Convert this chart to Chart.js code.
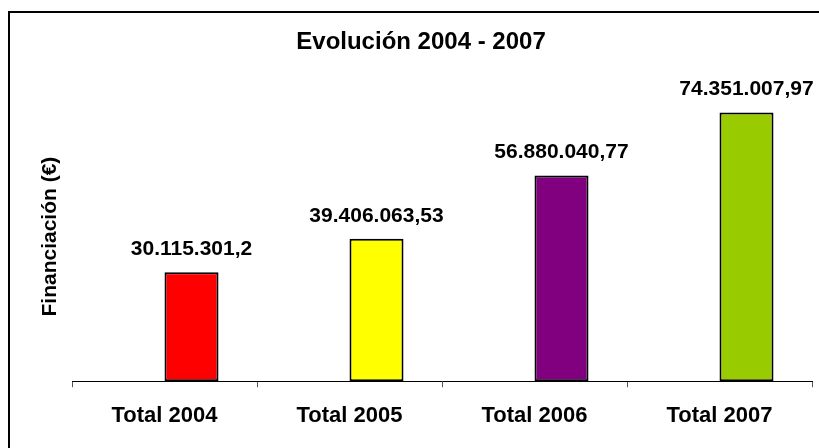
<!DOCTYPE html>
<html>
<head>
<meta charset="utf-8">
<script src="https://cdn.jsdelivr.net/npm/chart.js@4/dist/chart.umd.min.js"></script>
<style>
html, body { margin: 0; padding: 0; background: #fff; overflow: hidden; }
#wrap { position: relative; width: 819px; height: 448px; overflow: hidden; }
#frame { position: absolute; left: 8px; top: 11px; width: 900px; height: 500px;
  border-left: 2px solid #000; border-top: 2px solid #000; }
canvas { position: absolute; left: 0; top: 0; }
</style>
</head>
<body>
<div id="wrap">
	<div id="frame"></div>
	<canvas id="myChart" width="819" height="448"></canvas>
</div>
<script>
const categories = ['Total 2004', 'Total 2005', 'Total 2006', 'Total 2007'];
const financiacion = [30115301.2, 39406063.53, 56880040.77, 74351007.97];
const emptySeries = [null, null, null, null];
const barColors = ['#ff0000', '#ffff00', '#800080', '#99cc00'];

const FONT = '"Liberation Sans", Arial, sans-serif';

// 30.115.301,2 style
function fmtEs(v) {
	let [i, d] = v.toFixed(2).split('.');
	d = d.replace(/0+$/, '');
	i = i.replace(/\B(?=(\d{3})+(?!\d))/g, '.');
	return d ? i + ',' + d : i;
}

const valueLabels = {
	id: 'valueLabels',
	afterDatasetsDraw(chart) {
		const ctx = chart.ctx;
		const meta = chart.getDatasetMeta(1);
		ctx.save();
		ctx.font = 'bold 21px ' + FONT;
		ctx.fillStyle = '#000';
		ctx.textAlign = 'center';
		ctx.textBaseline = 'middle';
		meta.data.forEach((bar, i) => {
			ctx.fillText(fmtEs(financiacion[i]), bar.x, bar.y - 23);
		});
		ctx.restore();
	}
};

new Chart(document.getElementById('myChart').getContext('2d'), {
	type: 'bar',
	data: {
		labels: categories,
		datasets: [{
			label: '',
			data: emptySeries
		}, {
			label: 'Financiación',
			data: financiacion,
			backgroundColor: barColors,
			borderColor: '#000',
			borderWidth: 2,
			borderSkipped: false
		}]
	},
	options: {
		responsive: false,
		devicePixelRatio: 1,
		animation: false,
		categoryPercentage: 0.584,
		barPercentage: 1,
		layout: {
			padding: {left: 30, right: 7, top: 0, bottom: 2.8}
		},
		plugins: {
			legend: {display: false},
			tooltip: {enabled: false},
			title: {
				display: true,
				text: 'Evolución 2004 - 2007',
				color: '#000',
				font: {family: FONT, size: 24, weight: 'bold'},
				padding: {top: 28.1, bottom: 35.1}
			}
		},
		scales: {
			x: {
				grid: {display: true, drawOnChartArea: false, drawTicks: true, tickLength: 6, color: '#555'},
				border: {display: true, color: '#000', width: 1},
				ticks: {color: '#000', padding: 15.8, font: {family: FONT, size: 22, weight: 'bold'}}
			},
			y: {
				min: 0,
				max: 80000000,
				grid: {display: false, drawTicks: false},
				border: {display: false},
				ticks: {display: false},
				title: {
					display: true,
					text: 'Financiación (€)',
					color: '#000',
					font: {family: FONT, size: 21, weight: 'bold'},
					padding: {top: 7.4, bottom: 9.4}
				}
			}
		}
	},
	plugins: [valueLabels]
});
</script>
</body>
</html>
